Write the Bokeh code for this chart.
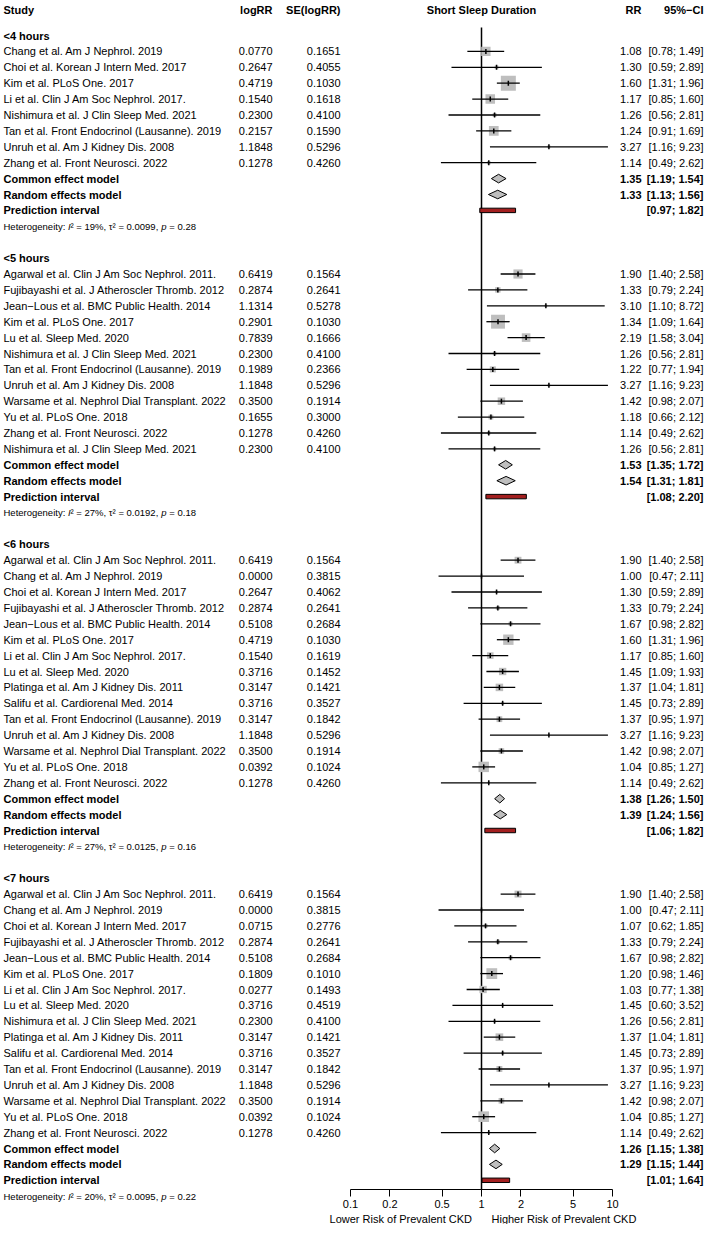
import numpy as np
from bokeh.plotting import figure
from bokeh.models import Range1d, FixedTicker, NumeralTickFormatter
from bokeh.core.properties import value
from bokeh.embed import file_html
from bokeh.resources import INLINE

FONT = "Liberation Sans"

# ---------------- data ----------------
group_labels = ["<4 hours", "<5 hours", "<6 hours", "<7 hours"]

g1_study = ["Chang et al. Am J Nephrol. 2019", "Choi et al. Korean J Intern Med. 2017",
            "Kim et al. PLoS One. 2017", "Li et al. Clin J Am Soc Nephrol. 2017.",
            "Nishimura et al. J Clin Sleep Med. 2021", "Tan et al. Front Endocrinol (Lausanne). 2019",
            "Unruh et al. Am J Kidney Dis. 2008", "Zhang et al. Front Neurosci. 2022"]
g1_logrr = [0.0770, 0.2647, 0.4719, 0.1540, 0.2300, 0.2157, 1.1848, 0.1278]
g1_se = [0.1651, 0.4055, 0.1030, 0.1618, 0.4100, 0.1590, 0.5296, 0.4260]
g1_lo = [0.78, 0.59, 1.31, 0.85, 0.56, 0.91, 1.16, 0.49]
g1_hi = [1.49, 2.89, 1.96, 1.60, 2.81, 1.69, 9.23, 2.62]

g2_study = ["Agarwal et al. Clin J Am Soc Nephrol. 2011.", "Fujibayashi et al. J Atheroscler Thromb. 2012",
            "Jean\u2212Lous et al. BMC Public Health. 2014", "Kim et al. PLoS One. 2017",
            "Lu et al. Sleep Med. 2020", "Nishimura et al. J Clin Sleep Med. 2021",
            "Tan et al. Front Endocrinol (Lausanne). 2019", "Unruh et al. Am J Kidney Dis. 2008",
            "Warsame et al. Nephrol Dial Transplant. 2022", "Yu et al. PLoS One. 2018",
            "Zhang et al. Front Neurosci. 2022", "Nishimura et al. J Clin Sleep Med. 2021"]
g2_logrr = [0.6419, 0.2874, 1.1314, 0.2901, 0.7839, 0.2300, 0.1989, 1.1848, 0.3500, 0.1655, 0.1278, 0.2300]
g2_se = [0.1564, 0.2641, 0.5278, 0.1030, 0.1666, 0.4100, 0.2366, 0.5296, 0.1914, 0.3000, 0.4260, 0.4100]
g2_lo = [1.40, 0.79, 1.10, 1.09, 1.58, 0.56, 0.77, 1.16, 0.98, 0.66, 0.49, 0.56]
g2_hi = [2.58, 2.24, 8.72, 1.64, 3.04, 2.81, 1.94, 9.23, 2.07, 2.12, 2.62, 2.81]

g3_study = ["Agarwal et al. Clin J Am Soc Nephrol. 2011.", "Chang et al. Am J Nephrol. 2019",
            "Choi et al. Korean J Intern Med. 2017", "Fujibayashi et al. J Atheroscler Thromb. 2012",
            "Jean\u2212Lous et al. BMC Public Health. 2014", "Kim et al. PLoS One. 2017",
            "Li et al. Clin J Am Soc Nephrol. 2017.", "Lu et al. Sleep Med. 2020",
            "Platinga et al. Am J Kidney Dis. 2011", "Salifu et al. Cardiorenal Med. 2014",
            "Tan et al. Front Endocrinol (Lausanne). 2019", "Unruh et al. Am J Kidney Dis. 2008",
            "Warsame et al. Nephrol Dial Transplant. 2022", "Yu et al. PLoS One. 2018",
            "Zhang et al. Front Neurosci. 2022"]
g3_logrr = [0.6419, 0.0000, 0.2647, 0.2874, 0.5108, 0.4719, 0.1540, 0.3716, 0.3147, 0.3716,
            0.3147, 1.1848, 0.3500, 0.0392, 0.1278]
g3_se = [0.1564, 0.3815, 0.4062, 0.2641, 0.2684, 0.1030, 0.1619, 0.1452, 0.1421, 0.3527,
         0.1842, 0.5296, 0.1914, 0.1024, 0.4260]
g3_lo = [1.40, 0.47, 0.59, 0.79, 0.98, 1.31, 0.85, 1.09, 1.04, 0.73, 0.95, 1.16, 0.98, 0.85, 0.49]
g3_hi = [2.58, 2.11, 2.89, 2.24, 2.82, 1.96, 1.60, 1.93, 1.81, 2.89, 1.97, 9.23, 2.07, 1.27, 2.62]

g4_study = ["Agarwal et al. Clin J Am Soc Nephrol. 2011.", "Chang et al. Am J Nephrol. 2019",
            "Choi et al. Korean J Intern Med. 2017", "Fujibayashi et al. J Atheroscler Thromb. 2012",
            "Jean\u2212Lous et al. BMC Public Health. 2014", "Kim et al. PLoS One. 2017",
            "Li et al. Clin J Am Soc Nephrol. 2017.", "Lu et al. Sleep Med. 2020",
            "Nishimura et al. J Clin Sleep Med. 2021", "Platinga et al. Am J Kidney Dis. 2011",
            "Salifu et al. Cardiorenal Med. 2014", "Tan et al. Front Endocrinol (Lausanne). 2019",
            "Unruh et al. Am J Kidney Dis. 2008", "Warsame et al. Nephrol Dial Transplant. 2022",
            "Yu et al. PLoS One. 2018", "Zhang et al. Front Neurosci. 2022"]
g4_logrr = [0.6419, 0.0000, 0.0715, 0.2874, 0.5108, 0.1809, 0.0277, 0.3716, 0.2300, 0.3147,
            0.3716, 0.3147, 1.1848, 0.3500, 0.0392, 0.1278]
g4_se = [0.1564, 0.3815, 0.2776, 0.2641, 0.2684, 0.1010, 0.1493, 0.4519, 0.4100, 0.1421,
         0.3527, 0.1842, 0.5296, 0.1914, 0.1024, 0.4260]
g4_lo = [1.40, 0.47, 0.62, 0.79, 0.98, 0.98, 0.77, 0.60, 0.56, 1.04, 0.73, 0.95, 1.16, 0.98, 0.85, 0.49]
g4_hi = [2.58, 2.11, 1.85, 2.24, 2.82, 1.46, 1.38, 3.52, 2.81, 1.81, 2.89, 1.97, 9.23, 2.07, 1.27, 2.62]

common_rr = [1.35, 1.53, 1.38, 1.26]
common_lo = [1.19, 1.35, 1.26, 1.15]
common_hi = [1.54, 1.72, 1.50, 1.38]
random_rr = [1.33, 1.54, 1.39, 1.29]
random_lo = [1.13, 1.31, 1.24, 1.15]
random_hi = [1.56, 1.81, 1.56, 1.44]
pred_lo = [0.97, 1.08, 1.06, 1.01]
pred_hi = [1.82, 2.20, 1.82, 1.64]
het_i2 = [19, 27, 27, 20]
het_tau2 = [0.0099, 0.0192, 0.0125, 0.0095]
het_p = [0.28, 0.18, 0.16, 0.22]

axis_ticks = [0.1, 0.2, 0.5, 1, 2, 5, 10]
col_headers = ["Study", "logRR", "SE(logRR)", "Short Sleep Duration", "RR", "95%\u2212CI"]
caption_left = "Lower Risk of Prevalent CKD"
caption_right = "Higher Risk of Prevalent CKD"

# ---------------- layout ----------------
W, H = 704, 1224
S = 15.9          # row pitch in px
ROW0 = 35.0       # fig px of row 0 ("<4 hours")
X1 = 481.0        # fig px of RR = 1
DEC = 131.0       # px per decade
FS = "11px"
HS = 9.5          # heterogeneity font size (px)
AXIS_PX = 1189.0  # fig px of the axis line
NB = "\u00a0"


def px2x(px):
    return 10 ** ((px - X1) / DEC)


def row_of_px(py):
    return (py - ROW0) / S


y_bottom = row_of_px(H)
y_top = row_of_px(0)
y_axis = row_of_px(AXIS_PX)
y_caption = row_of_px(AXIS_PX + 29)
y_header = -1.6

X_STUDY = px2x(3)
X_LOGRR = px2x(272)
X_SE = px2x(340)
X_RR = px2x(641)
X_CI = px2x(703)

p = figure(width=W, height=H, x_axis_type="log",
           x_range=Range1d(px2x(0), px2x(W)), y_range=Range1d(y_bottom, y_top),
           output_backend="svg", toolbar_location=None, y_axis_location=None,
           min_border_left=0, min_border_right=0, min_border_top=0, min_border_bottom=0)
p.outline_line_color = None
p.grid.visible = False
p.background_fill_color = "white"

ax = p.xaxis[0]
ax.fixed_location = y_axis
ax.ticker = FixedTicker(ticks=axis_ticks)
ax.formatter = NumeralTickFormatter(format="0.[0]")
ax.bounds = (0.1, 10)
ax.major_tick_in = 0
ax.major_tick_out = 7
ax.minor_tick_line_color = None
ax.axis_line_color = "black"
ax.major_tick_line_color = "black"
ax.major_label_text_font = FONT
ax.major_label_text_font_size = "11px"
ax.major_label_text_color = "black"
ax.major_label_standoff = 3


def add_text(xs, ys, texts, align, style="normal", size=FS, x_offset=0):
    if not texts:
        return
    p.text(x=xs, y=ys, text=texts, text_align=align, text_baseline="middle",
           text_font=value(FONT), text_font_style=style, text_font_size=size,
           text_color="black", x_offset=x_offset)


# header row
add_text([X_STUDY], [y_header], [col_headers[0]], "left", "bold")
add_text([X_LOGRR, X_SE], [y_header, y_header], col_headers[1:3], "right", "bold")
add_text([1.0], [y_header], [col_headers[3]], "center", "bold")
add_text([X_RR, X_CI], [y_header, y_header], col_headers[4:6], "right", "bold")

# caption below the axis, split around RR = 1
add_text([1.0], [y_caption], [caption_left], "right", x_offset=-9.5)
add_text([1.0], [y_caption], [caption_right], "left", x_offset=10)

# reference line at RR = 1
p.segment(x0=[1.0], y0=[-0.5], x1=[1.0], y1=[y_axis], line_color="black", line_width=1.5)

groups = [(g1_study, g1_logrr, g1_se, g1_lo, g1_hi), (g2_study, g2_logrr, g2_se, g2_lo, g2_hi),
          (g3_study, g3_logrr, g3_se, g3_lo, g3_hi), (g4_study, g4_logrr, g4_se, g4_lo, g4_hi)]

# offsets (px) of the heterogeneity pieces, from Arial/Liberation advance widths
off_I = 6.781 * HS
off_mid = (6.781 + 0.278) * HS
off_p = off_mid + 9.557 * HS
off_end = off_p + 0.556 * HS

r = 0
for gi, (st, lr, se, lo, hi) in enumerate(groups):
    lr = np.array(lr)
    se = np.array(se)
    lo = np.array(lo)
    hi = np.array(hi)
    rows = np.arange(r + 1, r + 1 + len(st))
    rr = np.exp(lr)
    w = 1.0 / se ** 2
    sizes = 23.4 * np.sqrt(w / w.sum())

    add_text([X_STUDY], [r], [group_labels[gi]], "left", "bold")
    add_text([X_STUDY] * len(st), list(rows), list(st), "left")
    add_text([X_LOGRR] * len(st), list(rows), [f"{v:.4f}" for v in lr], "right")
    add_text([X_SE] * len(st), list(rows), [f"{v:.4f}" for v in se], "right")
    add_text([X_RR] * len(st), list(rows), [f"{v:.2f}" for v in rr], "right")
    add_text([X_CI] * len(st), list(rows), [f"[{a:.2f}; {b:.2f}]" for a, b in zip(lo, hi)], "right")

    p.scatter(x=rr, y=rows, size=sizes, marker="square", fill_color="#BEBEBE", line_color=None)
    p.segment(x0=lo, y0=rows, x1=hi, y1=rows, line_color="black", line_width=1.3)
    p.scatter(x=rr, y=rows, marker="dash", angle=np.pi / 2, size=5,
              line_color="black", line_width=1.5)

    c_row = r + 1 + len(st)
    rnd_row = c_row + 1
    pr_row = c_row + 2
    h_row = c_row + 3

    add_text([X_STUDY] * 3, [c_row, rnd_row, pr_row],
             ["Common effect model", "Random effects model", "Prediction interval"], "left", "bold")
    add_text([X_RR, X_RR], [c_row, rnd_row],
             [f"{common_rr[gi]:.2f}", f"{random_rr[gi]:.2f}"], "right", "bold")
    add_text([X_CI, X_CI, X_CI], [c_row, rnd_row, pr_row],
             [f"[{common_lo[gi]:.2f}; {common_hi[gi]:.2f}]",
              f"[{random_lo[gi]:.2f}; {random_hi[gi]:.2f}]",
              f"[{pred_lo[gi]:.2f}; {pred_hi[gi]:.2f}]"], "right", "bold")

    hs = f"{HS}px"
    add_text([X_STUDY], [h_row], ["Heterogeneity:"], "left", "normal", hs)
    add_text([X_STUDY], [h_row], ["I"], "left", "italic", hs, x_offset=off_I)
    add_text([X_STUDY], [h_row],
             [f"\u00b2{NB}={NB}{het_i2[gi]}%,{NB}\u03c4\u00b2{NB}={NB}{het_tau2[gi]:.4f},"],
             "left", "normal", hs, x_offset=off_mid)
    add_text([X_STUDY], [h_row], ["p"], "left", "italic", hs, x_offset=off_p)
    add_text([X_STUDY], [h_row], [f"{NB}={NB}{het_p[gi]:.2f}"], "left", "normal", hs,
             x_offset=off_end)

    dh = 0.27
    p.patches(xs=[[common_lo[gi], common_rr[gi], common_hi[gi], common_rr[gi]],
                  [random_lo[gi], random_rr[gi], random_hi[gi], random_rr[gi]]],
              ys=[[c_row, c_row - dh, c_row, c_row + dh],
                  [rnd_row, rnd_row - dh, rnd_row, rnd_row + dh]],
              fill_color="#BEBEBE", line_color="black", line_width=1)
    p.quad(left=[pred_lo[gi]], right=[pred_hi[gi]], top=[pr_row - 0.14], bottom=[pr_row + 0.14],
           fill_color="#A31F1F", line_color="black", line_width=1)

    r = h_row + 2

open("out.html", "w").write(file_html(p, INLINE))
